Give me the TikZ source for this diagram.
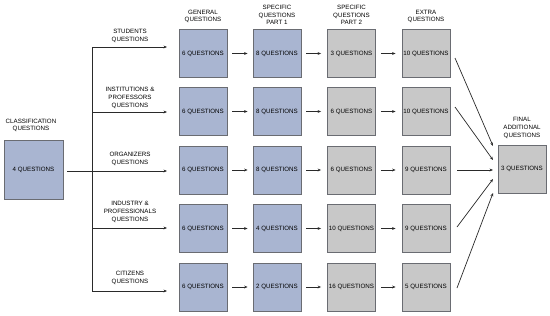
\documentclass[tikz,border=0pt]{standalone}
\usepackage{fontspec}
\setmainfont{Liberation Sans}
\usetikzlibrary{arrows.meta,calc}
\definecolor{bluebox}{HTML}{A9B5D1}
\definecolor{graybox}{HTML}{C8C8C8}
\definecolor{edgecol}{HTML}{6A6C72}
\definecolor{linecol}{HTML}{2A2A2A}
\begin{document}
\begin{tikzpicture}[x=1pt,y=-1pt,
  lbl/.style={font=\fontsize{6.2}{7.8}\selectfont, align=center, inner sep=0pt},
  qbox/.style={draw=edgecol, line width=0.8pt, minimum width=48pt, minimum height=48pt, inner sep=0pt, font=\fontsize{6.2}{7.8}\selectfont},
  bbox/.style={qbox, fill=bluebox},
  gbox/.style={qbox, fill=graybox},
  arr/.style={draw=linecol, line width=0.7pt, -{Stealth[length=3.5pt,width=2.8pt]}},
  conn/.style={draw=linecol, line width=0.7pt}]
\useasboundingbox (0,0) rectangle (550,316);

% classification
\node[bbox, minimum width=59pt, minimum height=59pt] (cls) at (33.5,169.5) {4 QUESTIONS};
\node[lbl] (clsl) at (31,125.5) {CLASSIFICATION\\QUESTIONS};

% headers
\node[lbl] (h1) at (203,16.5) {GENERAL\\QUESTIONS};
\node[lbl] (h2) at (277,15) {SPECIFIC\\QUESTIONS\\PART 1};
\node[lbl] (h3) at (351.5,15) {SPECIFIC\\QUESTIONS\\PART 2};
\node[lbl] (h4) at (426,16.5) {EXTRA\\QUESTIONS};
\node[lbl] (h5) at (522,128) {FINAL\\ADDITIONAL\\QUESTIONS};

% rows
\node[bbox] (g1) at (203,53.5) {6 QUESTIONS};
\node[bbox] (s1) at (277,53.5) {8 QUESTIONS};
\node[gbox] (t1) at (351.5,53.5) {3 QUESTIONS};
\node[gbox] (e1) at (426,53.5) {10 QUESTIONS};

\node[bbox] (g2) at (203,111.5) {6 QUESTIONS};
\node[bbox] (s2) at (277,111.5) {8 QUESTIONS};
\node[gbox] (t2) at (351.5,111.5) {6 QUESTIONS};
\node[gbox] (e2) at (426,111.5) {10 QUESTIONS};

\node[bbox] (g3) at (203,170) {6 QUESTIONS};
\node[bbox] (s3) at (277,170) {8 QUESTIONS};
\node[gbox] (t3) at (351.5,170) {6 QUESTIONS};
\node[gbox] (e3) at (426,170) {9 QUESTIONS};

\node[bbox] (g4) at (203,228.5) {6 QUESTIONS};
\node[bbox] (s4) at (277,228.5) {4 QUESTIONS};
\node[gbox] (t4) at (351.5,228.5) {10 QUESTIONS};
\node[gbox] (e4) at (426,228.5) {9 QUESTIONS};

\node[bbox] (g5) at (203,287) {6 QUESTIONS};
\node[bbox] (s5) at (277,287) {2 QUESTIONS};
\node[gbox] (t5) at (351.5,287) {16 QUESTIONS};
\node[gbox] (e5) at (426,287) {5 QUESTIONS};

\node[gbox] (fin) at (522,169) {3 QUESTIONS};

% branch labels
\node[lbl] (b1) at (130,36) {STUDENTS\\QUESTIONS};
\node[lbl] (b2) at (130,98) {INSTITUTIONS \&\\PROFESSORS\\QUESTIONS};
\node[lbl] (b3) at (130,159) {ORGANIZERS\\QUESTIONS};
\node[lbl] (b4) at (130,212) {INDUSTRY \&\\PROFESSIONALS\\QUESTIONS};
\node[lbl] (b5) at (130,278) {CITIZENS\\QUESTIONS};

% trunk
\coordinate (j1) at (92,47);
\coordinate (j2) at (92,112);
\coordinate (j3) at (92,171);
\coordinate (j4) at (92,228);
\coordinate (j5) at (92,291);
\coordinate (a1) at (167,47);
\coordinate (a2) at (167,112);
\coordinate (a3) at (167,171);
\coordinate (a4) at (167,228);
\coordinate (a5) at (167,291);
\coordinate (c0) at (67,171);
\draw[conn] (j1) -- (j5);
\draw[arr] (c0) -- (a3);
\draw[arr] (j1) -- (a1);
\draw[arr] (j2) -- (a2);
\draw[arr] (j4) -- (a4);
\draw[arr] (j5) -- (a5);

% row arrows
\foreach \r in {1,...,5}{
  \draw[arr, shorten <=5pt, shorten >=5pt] (g\r.east) -- (s\r.west);
  \draw[arr, shorten <=5pt, shorten >=6pt] (s\r.east) -- (t\r.west);
  \draw[arr, shorten <=5pt, shorten >=6pt] (t\r.east) -- (e\r.west);
}

% to final
\coordinate (f1s) at (455,58);   \coordinate (f1e) at (493,146);
\coordinate (f2s) at (455,107);  \coordinate (f2e) at (493,160);
\coordinate (f3s) at (457,170);  \coordinate (f3e) at (493,170);
\coordinate (f4s) at (457,227);  \coordinate (f4e) at (493,179);
\coordinate (f5s) at (457,288);  \coordinate (f5e) at (493,193);
\foreach \r in {1,...,5}{
  \draw[arr] (f\r s) -- (f\r e);
}
\end{tikzpicture}
\end{document}
